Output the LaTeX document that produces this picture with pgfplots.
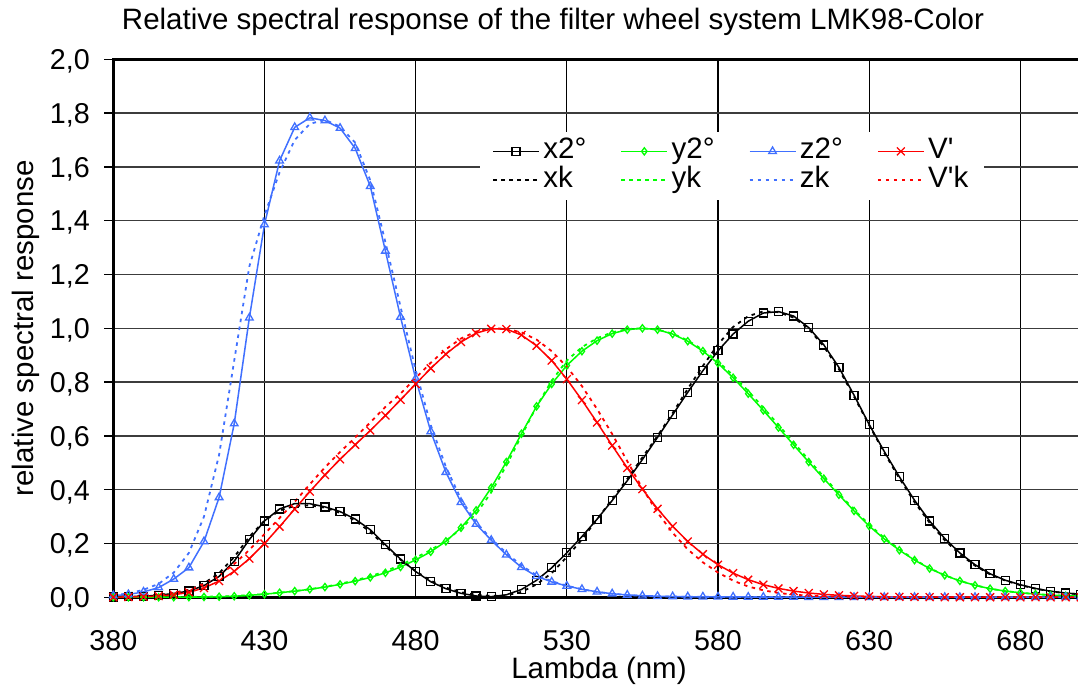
\documentclass[border=0pt]{standalone}
\usepackage{fontspec}
\setmainfont{Liberation Sans}
\usepackage{pgfplots}
\usepackage{pgfplotstable}
\pgfplotsset{compat=1.18}
\definecolor{cx}{RGB}{0,0,0}
\definecolor{cy}{RGB}{0,255,0}
\definecolor{cz}{RGB}{64,112,255}
\definecolor{cv}{RGB}{255,0,0}
\definecolor{gridh}{RGB}{60,60,60}

\pgfplotstableread{
lam x y z v xk yk zk vk
380 0.001368 0.000039 0.006450 0.000589 0.002 0.0000 0.008 0.001
385 0.002236 0.000064 0.010550 0.001108 0.003 0.0000 0.014 0.002
390 0.004243 0.000120 0.020050 0.002209 0.005 0.0002 0.028 0.004
395 0.007650 0.000217 0.036210 0.004530 0.009 0.0004 0.050 0.008
400 0.014310 0.000396 0.067850 0.009290 0.017 0.0007 0.092 0.015
405 0.023190 0.000640 0.110200 0.018520 0.028 0.0012 0.165 0.027
410 0.043510 0.001210 0.207400 0.034840 0.052 0.0020 0.300 0.049
415 0.077630 0.002180 0.371300 0.060400 0.090 0.0030 0.530 0.081
420 0.134380 0.004000 0.645600 0.096600 0.150 0.0050 0.880 0.124
425 0.214770 0.007300 1.039050 0.143600 0.225 0.0080 1.230 0.176
430 0.283900 0.011600 1.385600 0.199800 0.285 0.0120 1.420 0.235
435 0.328500 0.016840 1.622960 0.262500 0.322 0.0170 1.580 0.295
440 0.348280 0.023000 1.747060 0.328100 0.340 0.0230 1.700 0.355
445 0.348060 0.029800 1.782600 0.393100 0.342 0.0300 1.760 0.420
450 0.336200 0.038000 1.772110 0.455000 0.333 0.0390 1.775 0.483
455 0.318700 0.048000 1.744100 0.513000 0.314 0.0500 1.750 0.540
460 0.290800 0.060000 1.669200 0.567000 0.285 0.0630 1.690 0.594
465 0.251100 0.073900 1.528100 0.620000 0.243 0.0780 1.550 0.650
470 0.195360 0.090980 1.287640 0.676000 0.190 0.0970 1.320 0.708
475 0.142100 0.112600 1.041900 0.734000 0.140 0.1200 1.080 0.757
480 0.095640 0.139020 0.812950 0.793000 0.097 0.1470 0.845 0.815
485 0.057950 0.169300 0.616200 0.851000 0.062 0.1760 0.640 0.872
490 0.032010 0.208020 0.465180 0.904000 0.036 0.2100 0.485 0.922
495 0.014700 0.258600 0.353300 0.949000 0.019 0.2550 0.365 0.962
500 0.004900 0.323000 0.272000 0.982000 0.009 0.3100 0.278 0.988
505 0.002400 0.407300 0.212300 0.998000 0.005 0.3900 0.218 1.000
510 0.009300 0.503000 0.158200 0.997000 0.007 0.4900 0.165 0.998
515 0.029100 0.608200 0.111700 0.975000 0.020 0.6000 0.118 0.985
520 0.063270 0.710000 0.078250 0.935000 0.048 0.7100 0.082 0.958
525 0.109600 0.793200 0.057250 0.880000 0.090 0.8050 0.060 0.915
530 0.165500 0.862000 0.042160 0.811000 0.150 0.8800 0.043 0.857
535 0.225750 0.914850 0.029840 0.733000 0.215 0.9300 0.030 0.785
540 0.290400 0.954000 0.020300 0.650000 0.290 0.9630 0.020 0.700
545 0.359700 0.980300 0.013400 0.564000 0.365 0.9850 0.013 0.607
550 0.433450 0.994950 0.008750 0.481000 0.440 0.9970 0.0085 0.506
555 0.512050 1.000000 0.005750 0.402000 0.520 1.0000 0.0055 0.405
560 0.594500 0.995000 0.003900 0.328800 0.600 0.9950 0.0038 0.315
565 0.678400 0.978600 0.002750 0.263900 0.685 0.9800 0.0027 0.240
570 0.762100 0.952000 0.002100 0.207600 0.775 0.9550 0.0020 0.178
575 0.842500 0.915400 0.001800 0.160200 0.860 0.9200 0.0017 0.130
580 0.916300 0.870000 0.001650 0.121200 0.940 0.8770 0.0015 0.092
585 0.978600 0.816300 0.001400 0.089900 1.005 0.8250 0.0013 0.062
590 1.026300 0.757000 0.001100 0.065500 1.045 0.7670 0.0011 0.040
595 1.056700 0.694900 0.001000 0.046900 1.063 0.7050 0.0009 0.026
600 1.062200 0.631000 0.000800 0.033150 1.060 0.6410 0.0008 0.016
605 1.045600 0.566800 0.000600 0.023120 1.040 0.5760 0.0006 0.010
610 1.002600 0.503000 0.000340 0.015930 0.998 0.5110 0.0004 0.006
615 0.938400 0.441200 0.000240 0.010880 0.932 0.4480 0.0003 0.004
620 0.854450 0.381000 0.000190 0.007370 0.848 0.3860 0.0002 0.0025
625 0.751400 0.321000 0.000100 0.004970 0.746 0.3260 0.0001 0.0016
630 0.642400 0.265000 0.000050 0.003335 0.640 0.2700 0.0001 0.0010
635 0.541900 0.217000 0.000030 0.002235 0.537 0.2210 0.0000 0.0007
640 0.447900 0.175000 0.000020 0.001497 0.442 0.1780 0 0.0005
645 0.360800 0.138200 0.000010 0.001005 0.354 0.1400 0 0.0004
650 0.283500 0.107000 0 0.000677 0.277 0.1080 0 0.0003
655 0.218700 0.081600 0 0.000459 0.212 0.0820 0 0.0002
660 0.164900 0.061000 0 0.000313 0.160 0.0610 0 0.0001
665 0.121200 0.044580 0 0.000215 0.118 0.0450 0 0.0001
670 0.087400 0.032000 0 0.000148 0.085 0.0320 0 0
675 0.063600 0.023200 0 0.000103 0.062 0.0230 0 0
680 0.046770 0.017000 0 0.000072 0.045 0.0170 0 0
685 0.032900 0.011920 0 0.000050 0.032 0.0120 0 0
690 0.022700 0.008210 0 0.000035 0.022 0.0080 0 0
695 0.015840 0.005723 0 0.000025 0.015 0.0057 0 0
700 0.011359 0.004102 0 0.000018 0.011 0.0040 0 0
}\data

\begin{document}
\begin{tikzpicture}
\useasboundingbox (-113.3bp,-89.7bp) rectangle (964.7bp,597.3bp);
\begin{axis}[
  scale only axis, width=967.5bp, height=538bp,
  xmin=380, xmax=700, ymin=0, ymax=2,
  xtick={380,430,480,530,580,630,680},
  ytick={0,0.2,0.4,0.6,0.8,1.0,1.2,1.4,1.6,1.8,2.0},
  grid=major,
  major x grid style={black, line width=1.2bp},
  major y grid style={gridh, line width=1.5bp},
  axis line style={black, line width=2.6bp},
  tick align=outside,
  major tick length=9bp,
  xtick style={draw=none},
  ytick style={black, line width=1.5bp},
  xtick pos=bottom, ytick pos=left,
  /pgf/number format/.cd, use comma, fixed, fixed zerofill, precision=1, assume math mode=true,
  /pgfplots/.cd,
  xticklabel style={/pgf/number format/precision=0, /pgf/number format/fixed zerofill=false, font=\fontsize{28.8}{34}\selectfont, anchor=base, inner sep=0pt, yshift=-43.7bp},
  yticklabel style={font=\fontsize{28.8}{34}\selectfont, anchor=base east, inner sep=0pt, yshift=-10.3bp, xshift=-14.3bp},
  title={Relative spectral response of the filter wheel system LMK98-Color},
  title style={at={(axis description cs:0.4545,1)}, anchor=base, yshift=24bp, font=\fontsize{29.6}{34}\selectfont, inner sep=0pt},
  xlabel={Lambda (nm)},
  xlabel style={at={(axis description cs:0.502,-0.1506)}, anchor=base, font=\fontsize{29.6}{34}\selectfont, inner sep=0pt},
  ylabel={relative spectral response},
  ylabel style={at={(axis description cs:-0.082,0.5)}, anchor=base, font=\fontsize{29.6}{34}\selectfont, inner sep=0pt},
  legend columns=4,
  legend cell align=left,
  legend image code/.code={\draw[mark repeat=2,mark phase=2] plot coordinates {(0bp,0bp) (23bp,0bp) (46bp,0bp)};},
  legend style={at={(axis description cs:0.3785,0.8655)}, anchor=north west, draw=none, fill=white,
    font=\fontsize{29.6}{34}\selectfont, inner xsep=12.5bp, inner ysep=5bp,
    nodes={inner xsep=3.5bp, inner ysep=1bp, text height=21bp, text depth=6bp},
    /tikz/every even column/.append style={column sep=30.5bp}},
]
\addplot[cx, line width=1.5bp, mark=square, mark size=4bp, mark options={solid, line width=1.3bp, fill=none}] table[x=lam,y=x]{\data};
\addlegendentry{x2°}
\addplot[cy, line width=1.5bp, mark=diamond, mark size=3.6bp, mark options={solid, line width=1.3bp, fill=none}] table[x=lam,y=y]{\data};
\addlegendentry{y2°}
\addplot[cz, line width=1.5bp, mark=triangle, mark size=4.4bp, mark options={solid, line width=1.3bp, fill=none}] table[x=lam,y=z]{\data};
\addlegendentry{z2°}
\addplot[cv, line width=1.5bp, mark=x, mark size=5.6bp, mark options={solid, line width=1.3bp}] table[x=lam,y=v]{\data};
\addlegendentry{V\textquotesingle}
\addplot[cx, line width=1.8bp, dash pattern=on 3.5bp off 4.5bp] table[x=lam,y=xk]{\data};
\addlegendentry{xk}
\addplot[cy, line width=1.8bp, dash pattern=on 3.5bp off 4.5bp] table[x=lam,y=yk]{\data};
\addlegendentry{yk}
\addplot[cz, line width=1.8bp, dash pattern=on 3.5bp off 4.5bp] table[x=lam,y=zk]{\data};
\addlegendentry{zk}
\addplot[cv, line width=1.8bp, dash pattern=on 3.5bp off 4.5bp] table[x=lam,y=vk]{\data};
\addlegendentry{V\textquotesingle k}
\end{axis}
\end{tikzpicture}
\end{document}
